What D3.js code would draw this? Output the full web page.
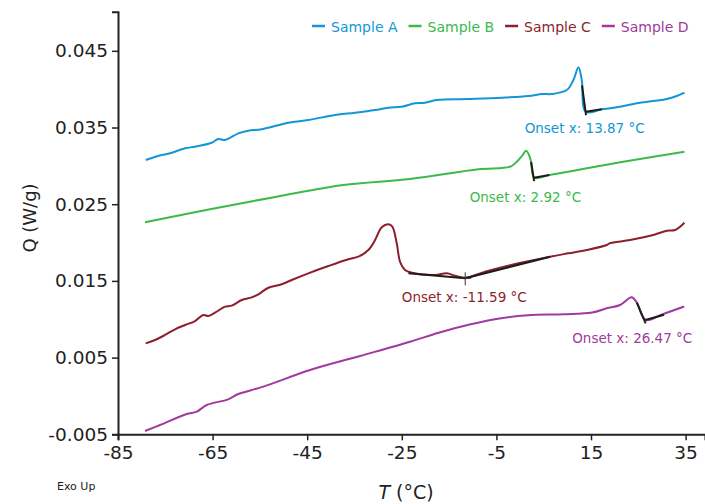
<!DOCTYPE html>
<html>
<head>
<meta charset="utf-8">
<script src="https://cdn.jsdelivr.net/npm/d3@7"></script>
<style>
  body{margin:0;background:#fff;}
  svg{display:block;font-family:"DejaVu Sans",sans-serif;}
</style>
</head>
<body>
<div id="chart"></div>
<script>
// DSC traces: [T (°C), Q (W/g)]
var seriesNames = ["Sample A", "Sample B", "Sample C", "Sample D"];

var sampleA = [[-79.14,0.03076],[-75.76,0.03141],[-74.0,0.03164],[-70.83,0.03229],[-68.72,0.0325],
  [-65.19,0.03302],[-63.79,0.0335],[-62.37,0.03337],[-59.56,0.03424],[-57.45,0.03458],[-54.61,0.03477],
  [-48.99,0.03563],[-44.76,0.03598],[-39.11,0.03663],[-34.88,0.03693],[-30.65,0.03728],[-27.84,0.03758],
  [-25.01,0.03771],[-22.2,0.03816],[-20.08,0.03823],[-17.61,0.03859],[-10.93,0.03872],[-3.86,0.03889],
  [2.48,0.03915],[4.6,0.03937],[6.71,0.03937],[9.88,0.03989],[11.28,0.04119],[12.34,0.04285],
  [13.05,0.04119],[13.9,0.03706],[17.28,0.03737],[21.15,0.03771],[24.68,0.03816],[28.19,0.03846],
  [31.03,0.03872],[33.14,0.03911],[34.75,0.03954]];

var sampleB = [[-79.29,0.02264],[-65.55,0.02434],[-51.44,0.02598],[-37.36,0.0275],[-23.25,0.02829],
  [-8.81,0.02955],[-2.11,0.02989],[-0.69,0.03054],[0.37,0.03128],[1.28,0.03198],[1.8,0.03155],
  [2.33,0.03054],[3.0,0.02846],[6.2,0.02881],[14.11,0.02968],[21.15,0.03046],[28.19,0.03119],
  [34.75,0.03185]];

var sampleC = [[-79.14,0.00686],[-77.18,0.00729],[-75.06,0.00795],[-72.95,0.00869],[-70.83,0.00925],
  [-68.72,0.00977],[-66.96,0.01055],[-65.91,0.01042],[-64.49,0.01085],[-62.37,0.01164],[-60.96,0.01177],
  [-58.84,0.01251],[-56.73,0.01286],[-55.33,0.01325],[-53.22,0.01411],[-50.38,0.01456],[-48.27,0.01512],
  [-44.76,0.01599],[-40.53,0.01694],[-36.3,0.01782],[-34.19,0.01816],[-32.07,0.01903],[-30.65,0.02033],
  [-29.24,0.02199],[-27.84,0.02238],[-27.0,0.02207],[-26.07,0.0199],[-25.37,0.0175],[-24.31,0.01642],
  [-22.9,0.01607],[-17.97,0.01577],[-15.49,0.01599],[-13.74,0.01568],[-11.41,0.01542],[-7.39,0.0162],
  [-0.35,0.0173],[6.35,0.01816],[10.22,0.0186],[14.11,0.01903],[18.34,0.01968],[18.89,0.0199],
  [23.27,0.02033],[28.19,0.02098],[31.03,0.02155],[32.78,0.02164],[34.75,0.02259]];

var sampleD = [[-79.29,-0.00457],[-76.12,-0.00379],[-70.47,-0.00235],[-68.36,-0.00205],[-66.24,-0.00118],
  [-61.68,-0.00044],[-59.56,0.00025],[-54.28,0.00121],[-44.4,0.00338],[-33.83,0.00521],[-23.25,0.00707],
  [-17.21,0.00825],[-10.42,0.00934],[-4.37,0.0101],[1.68,0.01053],[9.23,0.01066],[15.25,0.01088],
  [18.3,0.01143],[21.15,0.01186],[23.59,0.01286],[24.68,0.01218],[26.54,0.0099],[30.03,0.01062],
  [34.69,0.01166]];

// onset analysis (black tangent + baseline segments)
var onsetT = [13.87, 2.92, -11.59, 26.47];
var onsetQ = [0.03706, 0.02846, 0.01534, 0.0099];
var onsetLabels = ["Onset x: 13.87 °C", "Onset x: 2.92 °C", "Onset x: -11.59 °C", "Onset x: 26.47 °C"];
var tangentA = [[13.1,0.0405],[13.95,0.0366]], baseA = [[13.87,0.03706],[17.3,0.03737]];
var tangentB = [[2.33,0.0305],[2.98,0.0280]],  baseB = [[2.92,0.02846],[6.2,0.02881]];
var tangentC = [[-23.6,0.01599],[-11.59,0.01534]], baseC = [[-11.59,0.01534],[6.35,0.01816]];
var tangentD = [[24.68,0.01218],[26.55,0.00945]], baseD = [[26.47,0.0099],[30.45,0.01059]];

var xTicks = [-85, -65, -45, -25, -5, 15, 35];
var yTicks = [-0.005, 0.005, 0.015, 0.025, 0.035, 0.045];

var colors = ["#1396d6", "#3db94a", "#8c1f2d", "#a03a9e"];

var W = 705, H = 504;
var svg = d3.select("#chart").append("svg").attr("width", W).attr("height", H);

var x = d3.scaleLinear().domain([-85, 39.1]).range([118, 705]);
var y = d3.scaleLinear().domain([-0.005, 0.0501]).range([434.3, 11.7]);

// catmull-rom keeps the peaks but smooths the wiggles a bit
var line = d3.line()
  .x(function(d){ return x(d[0]); })
  .y(function(d){ return y(d[1]); })
  .curve(d3.curveCatmullRom.alpha(0.5));
var straight = d3.line()
  .x(function(d){ return x(d[0]); })
  .y(function(d){ return y(d[1]); });

// curves
var all = [sampleA, sampleB, sampleC, sampleD];
svg.append("g").selectAll("path")
  .data(all)
  .enter().append("path")
  .attr("d", line)
  .attr("fill", "none")
  .attr("stroke", function(d,i){ return colors[i]; })
  .attr("stroke-width", 2)
  .attr("stroke-linejoin", "round");

// onset segments on top
var segs = [tangentA, baseA, tangentB, baseB, tangentC, baseC, tangentD, baseD];
svg.append("g").selectAll("path")
  .data(segs)
  .enter().append("path")
  .attr("d", straight)
  .attr("fill", "none")
  .attr("stroke", "#1c1c1c")
  .attr("stroke-width", 2);

// little cross marker on sample C
var cx = x(onsetT[2]), cy = y(onsetQ[2]);
svg.append("path")
  .attr("d", "M" + (cx-6) + "," + cy + "H" + (cx+6) + "M" + cx + "," + (cy-6) + "V" + (cy+7))
  .attr("stroke", "#333").attr("stroke-width", 1);

// onset labels, offset under the corner
var labelOff = [[-1, 21], [-8.5, 24], [-1, 24], [-13, 23]];
svg.append("g").selectAll("text")
  .data(onsetLabels)
  .enter().append("text")
  .attr("x", function(d,i){ return x(onsetT[i]) + labelOff[i][0]; })
  .attr("y", function(d,i){ return y(onsetQ[i]) + labelOff[i][1]; })
  .attr("text-anchor", "middle")
  .attr("font-size", 13.5)
  .attr("fill", function(d,i){ return colors[i]; })
  .text(function(d){ return d; });

// axes
var xAxis = d3.axisBottom(x).tickValues(xTicks).tickSize(6).tickPadding(6)
  .tickFormat(function(d){ return String(d); });
var yAxis = d3.axisLeft(y).tickValues(yTicks).tickSize(6).tickPadding(4)
  .tickFormat(function(d){ return d.toFixed(3); });

var gx = svg.append("g").attr("transform", "translate(0," + y.range()[0] + ")").call(xAxis);
var gy = svg.append("g").attr("transform", "translate(" + x.range()[0] + ",0)").call(yAxis);

[gx, gy].forEach(function(g){
  g.select(".domain").attr("stroke", "#222").attr("stroke-width", 2);
  g.selectAll(".tick line").attr("stroke", "#222").attr("stroke-width", 1.5);
  g.selectAll(".tick text").attr("fill", "#222").attr("font-size", 18.5)
    .attr("font-family", "DejaVu Sans, sans-serif");
});

// axis titles
var xt = svg.append("text")
  .attr("x", 406).attr("y", 499)
  .attr("text-anchor", "middle")
  .attr("font-size", 19).attr("fill", "#222");
xt.append("tspan").attr("font-style", "italic").text("T");
xt.append("tspan").text(" (°C)");

svg.append("text")
  .attr("transform", "translate(36,218) rotate(-90)")
  .attr("text-anchor", "middle")
  .attr("font-size", 18).attr("fill", "#222")
  .text("Q (W/g)");

svg.append("text")
  .attr("x", 57).attr("y", 490)
  .attr("font-size", 11).attr("fill", "#222")
  .text("Exo Up");

// legend, laid out left to right
var lx = 312;
seriesNames.forEach(function(name, i){
  var g = svg.append("g");
  g.append("line")
    .attr("x1", lx).attr("x2", lx + 13)
    .attr("y1", 26).attr("y2", 26)
    .attr("stroke", colors[i]).attr("stroke-width", 2.5);
  var t = g.append("text")
    .attr("x", lx + 19).attr("y", 31.5)
    .attr("font-size", 14).attr("fill", colors[i])
    .text(name);
  lx += 19 + t.node().getComputedTextLength() + 11;
});
</script>
</body>
</html>
